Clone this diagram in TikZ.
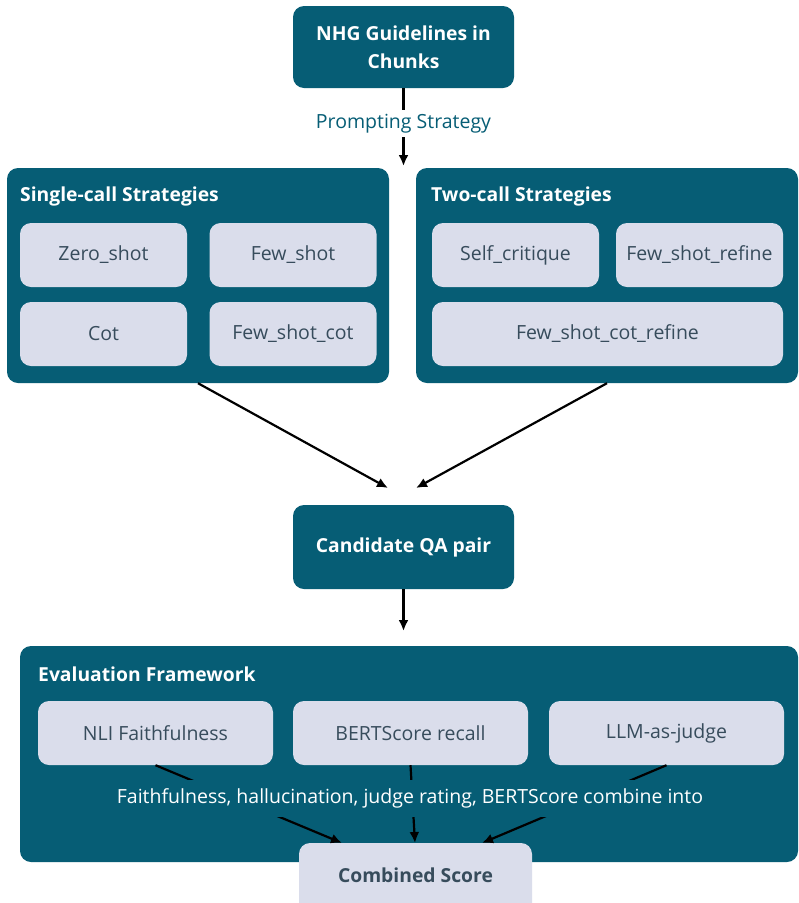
\documentclass[tikz,border=0pt]{standalone}
\usepackage{fontspec}
\setmainfont{Open Sans}
\usetikzlibrary{arrows.meta}
\definecolor{boxteal}{RGB}{6,93,117}
\definecolor{boxlight}{RGB}{218,221,235}
\definecolor{inktext}{RGB}{55,76,92}

\begin{document}
\begin{tikzpicture}[x=1pt, y=-1pt,
        tealbox/.style={fill=boxteal, rounded corners=11pt, inner sep=0pt},
        lightbox/.style={fill=boxlight, rounded corners=11pt, inner sep=0pt,
            minimum height=64pt, text=inktext, font=\fontsize{19.5}{23}\selectfont},
        boxtitle/.style={anchor=west, inner sep=0pt, text=white, font=\bfseries\fontsize{19.3}{23}\selectfont},
        flow/.style={line width=2.2pt, -{Latex[length=11pt,width=10pt]}}]
        \clip (0, 0) rectangle (799, 903);
        \fill[white] (0, 0) rectangle (799, 903);
        % input and prompting
        \node[tealbox, minimum width=221pt, minimum height=82pt, text=white,
            align=center, font=\bfseries\fontsize{19.3}{28}\selectfont]
            (chunks) at (403.5, 47) {NHG Guidelines in\\Chunks};
        \coordinate (split) at (403.5, 166);
        \draw[flow] (chunks) -- node[fill=white, text=boxteal, inner sep=4pt,
            font=\fontsize{19.5}{23}\selectfont, pos=0.45] (prompt) {Prompting Strategy} (split);
        % strategy groups
        \node[tealbox, minimum width=382pt, minimum height=215pt] (single) at (198, 275.5) {};
        \node[boxtitle] (singletitle) at (20, 196) {Single-call Strategies};
        \node[tealbox, minimum width=382pt, minimum height=215pt] (two) at (607, 275.5) {};
        \node[boxtitle] (twotitle) at (431, 196) {Two-call Strategies};
        \foreach \name/\x/\y/\txt in {zero/103.5/255/Zero\_shot, few/293/255/Few\_shot,
                cot/103.5/334/Cot, fewcot/293/334/Few\_shot\_cot,
                selfcrit/515.5/255/Self\_critique, fewref/699.5/255/Few\_shot\_refine} {
            \node[lightbox, minimum width=167pt] (\name) at (\x, \y) {\txt};
        }
        \node[lightbox, minimum width=351pt] (fewcotref) at (607.5, 334) {Few\_shot\_cot\_refine};
        % candidate
        \coordinate (inleft) at (388, 488);
        \coordinate (inright) at (416, 488);
        \draw[flow] (single.south) -- (inleft);
        \draw[flow] (two.south) -- (inright);
        \node[tealbox, minimum width=221pt, minimum height=84pt, text=white,
            font=\bfseries\fontsize{19.3}{23}\selectfont] (cand) at (403.5, 547) {Candidate QA pair};
        \coordinate (evalin) at (403.5, 631);
        \draw[flow] (cand) -- (evalin);
        % evaluation
        \node[tealbox, minimum width=778pt, minimum height=216pt] (eval) at (409, 754) {};
        \node[boxtitle] (evaltitle) at (38, 674) {Evaluation Framework};
        \foreach \name/\x/\txt in {nli/155.5/NLI Faithfulness, bert/410.5/BERTScore recall,
                judge/666.5/LLM-as-judge} {
            \node[lightbox, minimum width=235pt] (\name) at (\x, 733) {\txt};
        }
        \node[fill=boxlight, rounded corners=11pt, minimum width=233pt, minimum height=80pt]
            (comb) at (415.5, 883) {};
        \node[text=inktext, font=\bfseries\fontsize{19.3}{23}\selectfont] (combtext) at (415.5, 875) {Combined Score};
        \coordinate (c1) at (342, 843);
        \coordinate (c2) at (415, 843);
        \coordinate (c3) at (482, 843);
        \draw[flow] (nli.south) -- (c1);
        \draw[flow] (bert.south) -- (c2);
        \draw[flow] (judge.south) -- (c3);
        \node[fill=boxteal, text=white, inner xsep=2pt, minimum height=37pt,
            font=\fontsize{19.5}{23}\selectfont] (combine) at (410, 798)
            {Faithfulness, hallucination, judge rating, BERTScore combine into};
\end{tikzpicture}
\end{document}
